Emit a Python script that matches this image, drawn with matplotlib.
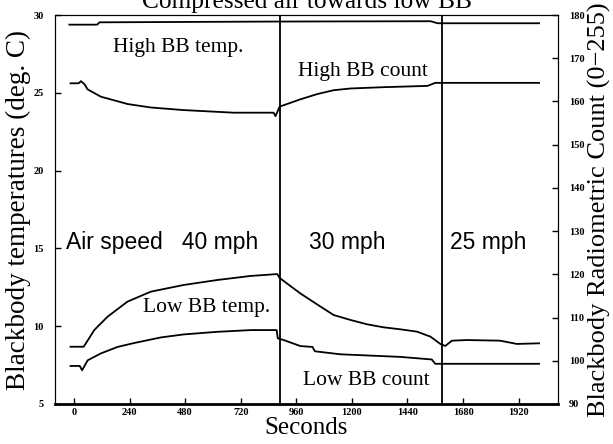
import matplotlib
matplotlib.use("Agg")
import matplotlib.pyplot as plt

# time (s) and values
t_high_temp = [-20, 100, 110, 888, 1540, 1570, 2008]
high_temp = [29.38, 29.38, 29.53, 29.58, 29.6, 29.47, 29.47]

t_low_temp = [-15, 42, 88, 145, 231, 332, 474, 619, 763, 878, 888, 978, 1050,
              1121, 1194, 1266, 1336, 1409, 1481, 1539, 1582, 1603, 1632, 1697,
              1840, 1912, 2008]
low_temp = [8.68, 8.68, 9.76, 10.61, 11.58, 12.22, 12.65, 12.97, 13.23, 13.35,
            13.1, 12.1, 11.4, 10.72, 10.4, 10.12, 9.93, 9.8, 9.65, 9.33, 8.86,
            8.73, 9.07, 9.11, 9.07, 8.86, 8.9]

t_high_count = [-15, 20, 30, 45, 59, 116, 232, 332, 474, 690, 862, 870, 888,
                978, 1050, 1121, 1194, 1336, 1526, 1560, 2008]
high_count = [164.2, 164.2, 164.7, 164.0, 162.8, 161.1, 159.4, 158.6, 158.0,
              157.4, 157.4, 156.6, 158.8, 160.5, 161.7, 162.6, 163.0, 163.3,
              163.6, 164.3, 164.3]

t_low_count = [-15, 25, 35, 59, 116, 188, 259, 375, 474, 619, 763, 875, 880,
               905, 978, 1030, 1040, 1150, 1409, 1545, 1560, 2008]
low_count = [98.8, 98.8, 97.8, 100.1, 101.7, 103.2, 104.1, 105.4, 106.1, 106.7,
             107.1, 107.1, 105.2, 104.8, 103.4, 103.2, 102.2, 101.5, 100.9,
             100.3, 99.3, 99.3]

speed_changes = [888, 1590]
x_ticks = [0, 240, 480, 720, 960, 1200, 1440, 1680, 1920]

serif = "Liberation Serif"
sans = "Liberation Sans"

fig = plt.figure(figsize=(6.13, 4.44), dpi=100)
ax = fig.add_axes([0.0897, 0.0901, 0.8206, 0.8761])
ax2 = ax.twinx()

ax.plot(t_high_temp, high_temp, color="black", lw=1.3)
ax.plot(t_low_temp, low_temp, color="black", lw=1.3)
ax2.plot(t_high_count, high_count, color="black", lw=1.3)
ax2.plot(t_low_count, low_count, color="black", lw=1.3)
for xc in speed_changes:
    ax.axvline(xc, color="black", lw=1.3)

ax.set_xlim(-82, 2090)
ax.set_ylim(5, 30)
ax2.set_ylim(90, 180)
ax.set_xticks(x_ticks)
ax.set_yticks(range(5, 31, 5))
ax2.set_yticks(range(90, 181, 10))

for a in (ax, ax2):
    a.tick_params(direction="in", length=4, width=1)
    for lab in a.get_xticklabels() + a.get_yticklabels():
        lab.set_fontfamily(serif)
        lab.set_fontweight("bold")
        lab.set_fontsize(7.5)
ax.tick_params(axis="y", pad=8)
ax.tick_params(axis="x", pad=3)
ax2.tick_params(axis="y", pad=8)
ax.spines["bottom"].set_linewidth(2)

ax.set_xlabel("Seconds", fontfamily=serif, fontsize=18, labelpad=0)
ax.set_ylabel("Blackbody temperatures (deg. C)", fontfamily=serif, fontsize=19.5,
              labelpad=2)
ax2.set_ylabel("Blackbody Radiometric Count (0\u2212255)", fontfamily=serif,
               fontsize=19, labelpad=2)
fig.text(0.501, 0.982, "Compressed air towards low BB", fontfamily=serif,
         fontsize=18.3, ha="center", va="baseline")

ax.text(448, 27.88, "High BB temp.", fontfamily=serif, fontsize=15.5,
        ha="center", va="center")
ax.text(1246, 26.34, "High BB count", fontfamily=serif, fontsize=15.5,
        ha="center", va="center")
ax.text(573, 11.17, "Low BB temp.", fontfamily=serif, fontsize=15.5,
        ha="center", va="center")
ax.text(1263, 6.48, "Low BB count", fontfamily=serif, fontsize=15.5,
        ha="center", va="center")
ax.text(-34, 15.35, "Air speed   40 mph", fontfamily=sans, fontsize=16.5,
        ha="left", va="center")
ax.text(1181, 15.35, "30 mph", fontfamily=sans, fontsize=16.5,
        ha="center", va="center")
ax.text(1789, 15.35, "25 mph", fontfamily=sans, fontsize=16.5,
        ha="center", va="center")

fig.savefig("out.png", dpi=100)
